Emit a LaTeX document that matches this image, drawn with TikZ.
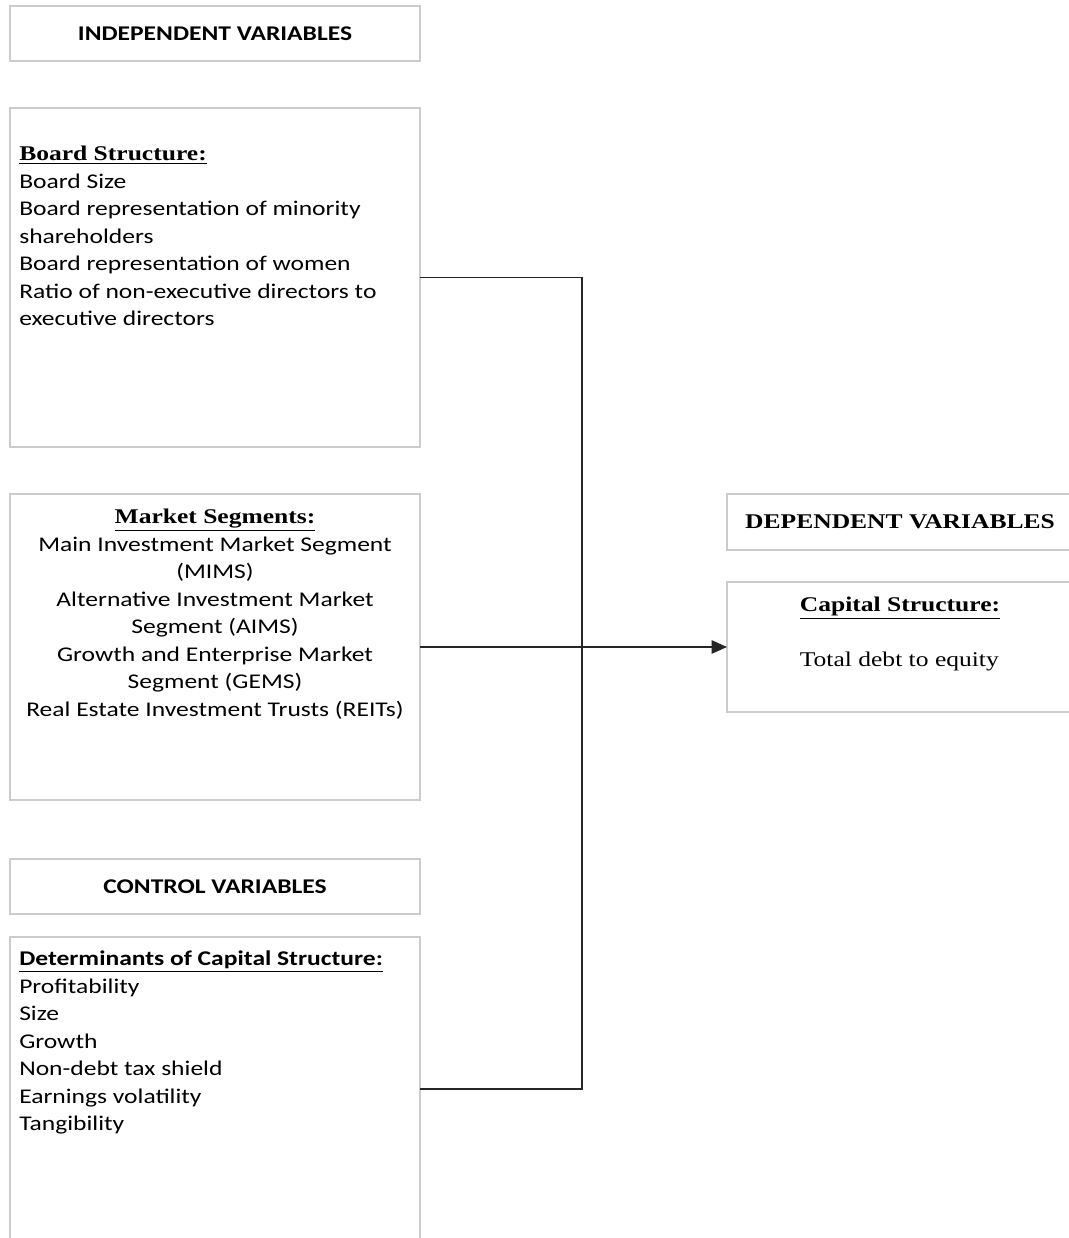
\documentclass[tikz,border=0pt]{standalone}
\usepackage{fontspec}
\setmainfont{Carlito}[FakeStretch=1.22]
\newfontfamily\tnr{Liberation Serif}[FakeStretch=1.22]
\usetikzlibrary{positioning}
\usetikzlibrary{arrows.meta}

\begin{document}
\begin{tikzpicture}[x=0.75pt,y=-0.75pt,
        varbox/.style={rectangle, draw=black!20, line width=1.2pt, outer sep=0pt, minimum width=307.5pt},
        depbox/.style={rectangle, draw=black!20, line width=1.2pt, outer sep=0pt, minimum width=259.5pt},
        headtext/.style={font=\fontsize{15.7}{20.6}\selectfont\bfseries},
        listtext/.style={inner sep=0pt, font=\fontsize{15.7}{20.6}\selectfont},
        link/.style={draw=black!85, line width=1.2pt}]
            \useasboundingbox (0,0) rectangle (1068,1238);
            %Nodes
            \node[varbox, headtext, minimum height=41.25pt]   (indephead)   at (215,33.5)   {INDEPENDENT VARIABLES};
            \node[varbox, minimum height=254.25pt]   (boardbox)  [below=35.25pt of indephead]    {};
            \node[varbox, minimum height=229.5pt]   (marketbox)  [below=35.25pt of boardbox]    {};
            \node[varbox, headtext, minimum height=41.25pt]   (controlhead)  [below=44.25pt of marketbox]    {CONTROL VARIABLES};
            \node[varbox, minimum height=228pt]   (detbox)  [below=17.25pt of controlhead]    {};
            \node[depbox, headtext, minimum height=42pt]   (dephead)   at (900,522)   {\tnr DEPENDENT VARIABLES};
            \node[depbox, minimum height=97.5pt]   (capbox)  [below=24pt of dephead]    {};
            %Texts
            \node[listtext, anchor=north west, align=left]   (boardtxt)  at ([xshift=6.75pt,yshift=-28.5pt]boardbox.north west)
                {{\tnr\bfseries\underline{Board Structure:}}\\ Board Size\\ Board representation of minority\\ shareholders\\ Board representation of women\\ Ratio of non-executive directors to\\ executive directors};
            \node[listtext, anchor=north, align=center]   (markettxt)  at ([yshift=-11.25pt]marketbox.north)
                {{\tnr\bfseries\underline{Market Segments:}}\\ Main Investment Market Segment\\ (MIMS)\\ Alternative Investment Market\\ Segment (AIMS)\\ Growth and Enterprise Market\\ Segment (GEMS)\\ Real Estate Investment Trusts (REITs)};
            \node[listtext, anchor=north west, align=left]   (dettxt)  at ([xshift=6.75pt,yshift=-10.5pt]detbox.north west)
                {{\bfseries\underline{Determinants of Capital Structure:}}\\ Profitability\\ Size\\ Growth\\ Non-debt tax shield\\ Earnings volatility\\ Tangibility};
            \node[listtext, anchor=north, align=left, font=\fontsize{15.7}{20.6}\selectfont\tnr]   (captxt)  at ([yshift=-11.25pt]capbox.north)
                {{\bfseries\underline{Capital Structure:}}\\[20.6pt] Total debt to equity};
            %Connectors
            \coordinate (junc) at ([xshift=121.5pt]marketbox.east);
            \draw[link] (boardbox.east) -- (boardbox.east -| junc) -- (detbox.east -| junc) -- (detbox.east);
            \draw[link, -{Triangle[length=11.5pt,width=10pt]}] (marketbox.east) -- (capbox.west);
        \end{tikzpicture}
\end{document}
